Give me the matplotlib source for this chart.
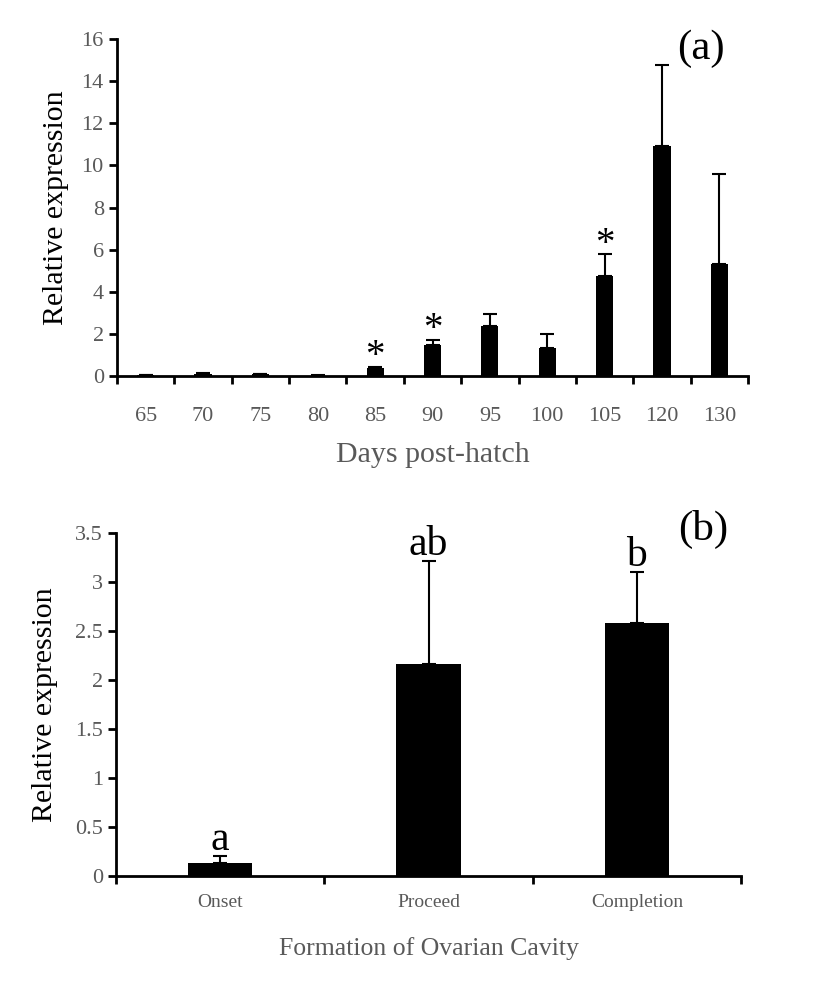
import matplotlib.pyplot as plt
import numpy as np

plt.rcParams['font.family'] = ['Liberation Serif', 'DejaVu Serif']

# (a) 数据
days = ['65', '70', '75', '80', '85', '90', '95', '100', '105', '120', '130']
expr_a = [0.03, 0.10, 0.08, 0.02, 0.38, 1.47, 2.37, 1.31, 4.76, 10.92, 5.30]
err_a = [0.01, 0.03, 0.03, 0.01, 0.07, 0.24, 0.57, 0.67, 1.02, 3.85, 4.29]
star_a = ['', '', '', '', '*', '*', '', '', '*', '', '']

# (b) 数据
stages = ['Onset', 'Proceed', 'Completion']
expr_b = [0.136, 2.16, 2.58]
err_b = [0.071, 1.05, 0.52]
letters_b = ['a', 'ab', 'b']

gray = '#595959'

fig = plt.figure(figsize=(8.27, 9.83), dpi=100)

# 图 (a)
ax1 = fig.add_axes([0.1415, 0.6175, 0.763, 0.3428])
x = np.arange(len(days))
ax1.bar(x, expr_a, width=0.3, color='black', zorder=2)
ax1.errorbar(x, expr_a, yerr=[np.zeros(len(x)), err_a], fmt='none',
             ecolor='black', elinewidth=1.5, capsize=5, capthick=1.5, zorder=1)
for xi, v, e, s in zip(x, expr_a, err_a, star_a):
    if s:
        ax1.text(xi, v + e - 0.4, s, ha='center', va='bottom', fontsize=28,
                 color='black')
ax1.set_xlim(-0.5, len(days) - 0.5)
ax1.set_ylim(0, 16)
ax1.set_yticks(range(0, 17, 2))
ax1.set_xticks(x)
ax1.set_xticklabels(days)
ax1.set_xticks(np.arange(-0.5, len(days), 1), minor=True)
ax1.tick_params(axis='x', which='major', length=0, pad=22, labelsize=16, labelcolor=gray)
ax1.tick_params(axis='x', which='minor', length=6, width=2, direction='out')
ax1.tick_params(axis='y', length=6, width=2, labelsize=16, labelcolor=gray)
ax1.set_ylabel('Relative expression', fontsize=21.5, color='black', labelpad=9)
ax1.set_xlabel('Days post-hatch', fontsize=21.5, color=gray, labelpad=12)
for sp in ['top', 'right']:
    ax1.spines[sp].set_visible(False)
for sp in ['left', 'bottom']:
    ax1.spines[sp].set_linewidth(2)
ax1.text(0.925, 0.97, '(a)', transform=ax1.transAxes, ha='center', va='center',
         fontsize=31)

# 图 (b)
ax2 = fig.add_axes([0.1403, 0.1089, 0.7557, 0.3489])
x2 = np.arange(len(stages))
ax2.bar(x2, expr_b, width=0.31, color='black', zorder=2)
ax2.errorbar(x2, expr_b, yerr=[np.zeros(len(x2)), err_b], fmt='none',
             ecolor='black', elinewidth=1.5, capsize=5, capthick=1.5, zorder=1)
for xi, v, e, s in zip(x2, expr_b, err_b, letters_b):
    ax2.text(xi, v + e - 0.03, s, ha='center', va='bottom', fontsize=30)
ax2.set_xlim(-0.5, len(stages) - 0.5)
ax2.set_ylim(0, 3.5)
ax2.set_yticks([0, 0.5, 1, 1.5, 2, 2.5, 3, 3.5])
ax2.set_yticklabels(['0', '0.5', '1', '1.5', '2', '2.5', '3', '3.5'])
ax2.set_xticks(x2)
ax2.set_xticklabels(stages)
ax2.set_xticks(np.arange(-0.5, len(stages), 1), minor=True)
ax2.tick_params(axis='x', which='major', length=0, pad=13, labelsize=14, labelcolor=gray)
ax2.tick_params(axis='x', which='minor', length=6, width=2, direction='out')
ax2.tick_params(axis='y', length=6, width=2, labelsize=16, labelcolor=gray)
ax2.set_ylabel('Relative expression', fontsize=21.5, color='black', labelpad=12)
ax2.set_xlabel('Formation of Ovarian Cavity', fontsize=18.5, color=gray, labelpad=19)
for sp in ['top', 'right']:
    ax2.spines[sp].set_visible(False)
for sp in ['left', 'bottom']:
    ax2.spines[sp].set_linewidth(2)
ax2.text(0.94, 1.01, '(b)', transform=ax2.transAxes, ha='center', va='center',
         fontsize=31)

plt.savefig('out.png', dpi=100)
